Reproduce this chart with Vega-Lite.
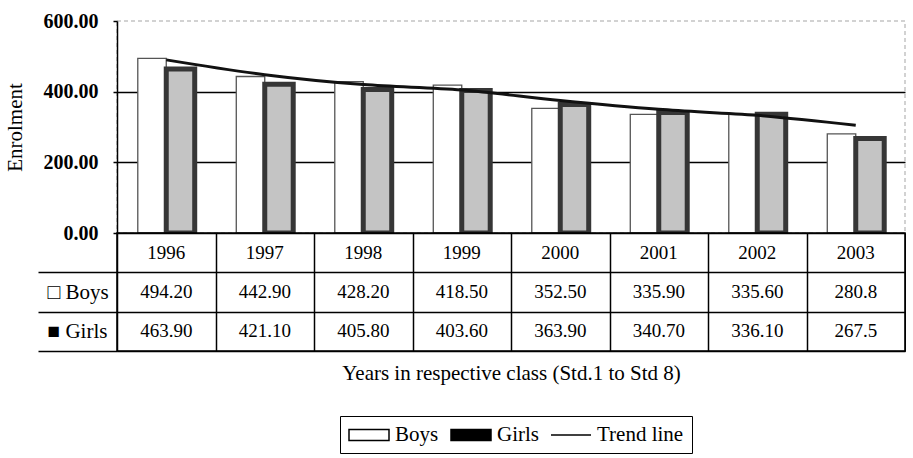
{
  "$schema": "https://vega.github.io/schema/vega-lite/v6.json",
  "padding": {"left": 3, "top": 10, "right": 0, "bottom": 0},
  "background": "white",
  "config": {"font": "Liberation Serif"},
  "datasets": {
    "enrol": [
      {"year": "1996", "sex": "Boys", "value": 494.2, "label": "494.20"},
      {"year": "1997", "sex": "Boys", "value": 442.9, "label": "442.90"},
      {"year": "1998", "sex": "Boys", "value": 428.2, "label": "428.20"},
      {"year": "1999", "sex": "Boys", "value": 418.5, "label": "418.50"},
      {"year": "2000", "sex": "Boys", "value": 352.5, "label": "352.50"},
      {"year": "2001", "sex": "Boys", "value": 335.9, "label": "335.90"},
      {"year": "2002", "sex": "Boys", "value": 335.6, "label": "335.60"},
      {"year": "2003", "sex": "Boys", "value": 280.8, "label": "280.8"},
      {"year": "1996", "sex": "Girls", "value": 463.9, "label": "463.90"},
      {"year": "1997", "sex": "Girls", "value": 421.1, "label": "421.10"},
      {"year": "1998", "sex": "Girls", "value": 405.8, "label": "405.80"},
      {"year": "1999", "sex": "Girls", "value": 403.6, "label": "403.60"},
      {"year": "2000", "sex": "Girls", "value": 363.9, "label": "363.90"},
      {"year": "2001", "sex": "Girls", "value": 340.7, "label": "340.70"},
      {"year": "2002", "sex": "Girls", "value": 336.1, "label": "336.10"},
      {"year": "2003", "sex": "Girls", "value": 267.5, "label": "267.5"}
    ],
    "trend": [
      {"year": "1996", "trend": 490},
      {"year": "1997", "trend": 448},
      {"year": "1998", "trend": 420},
      {"year": "1999", "trend": 405},
      {"year": "2000", "trend": 375},
      {"year": "2001", "trend": 350},
      {"year": "2002", "trend": 333},
      {"year": "2003", "trend": 305}
    ]
  },
  "spacing": 0,
  "bounds": "flush",
  "resolve": {"scale": {"x": "independent", "y": "independent"}},
  "vconcat": [
    {
      "width": 788,
      "height": 212,
      "view": {"stroke": "#c4c4c4", "strokeDash": [4, 3], "strokeWidth": 1.5},
      "layer": [
        {
          "data": {"name": "enrol"},
          "mark": {"type": "bar", "clip": true},
          "encoding": {
            "x": {"field": "year", "type": "nominal", "scale": {"paddingInner": 0, "paddingOuter": 0}, "axis": null},
            "xOffset": {"field": "sex", "type": "nominal", "scale": {"domain": ["Boys", "Girls"], "paddingInner": 0, "paddingOuter": 0.73}},
            "y": {
              "field": "value", "type": "quantitative",
              "scale": {"domain": [0, 600], "nice": false},
              "axis": {
                "values": [0, 200, 400, 600], "format": ".2f",
                "title": "Enrolment", "titleFontSize": 21, "titleFontWeight": "normal", "titleColor": "black", "titlePadding": 18,
                "labelFontSize": 20, "labelFontWeight": "bold", "labelColor": "black", "labelPadding": 15, "labelFlush": false,
                "tickSize": 4, "tickColor": "black", "tickWidth": 1.5,
                "domainColor": "black", "domainWidth": 1.5,
                "grid": true,
                "gridColor": {"condition": {"test": "datum.value === 200 || datum.value === 400", "value": "black"}, "value": "transparent"},
                "gridWidth": 1.5
              }
            },
            "fill": {"condition": {"test": "datum.sex === 'Girls'", "value": "#c4c4c4"}, "value": "#ffffff"},
            "stroke": {"condition": {"test": "datum.sex === 'Girls'", "value": "#363636"}, "value": "#555555"},
            "strokeWidth": {"condition": {"test": "datum.sex === 'Girls'", "value": 5}, "value": 1.3}
          }
        },
        {
          "data": {"name": "trend"},
          "mark": {"type": "line", "strokeWidth": 3, "interpolate": "monotone", "color": "#111111"},
          "encoding": {
            "x": {"field": "year", "type": "nominal"},
            "y": {"field": "trend", "type": "quantitative"}
          }
        },
        {
          "data": {"name": "enrol"},
          "mark": {"type": "point", "opacity": 0, "strokeWidth": 1.5},
          "encoding": {
            "x": {"field": "year", "type": "nominal"},
            "y": {"field": "value", "type": "quantitative"},
            "fill": {
              "field": "sex", "type": "nominal",
              "scale": {"domain": ["Boys", "Girls", "Trend line"], "range": ["#ffffff", "#000000", "transparent"]},
              "legend": {
                "orient": "none", "legendX": 223, "legendY": 395,
                "direction": "horizontal", "columns": 3, "title": null,
                "strokeColor": "black", "fillColor": "white", "padding": 8,
                "labelFontSize": 21, "labelColor": "black", "labelFont": "Liberation Serif", "labelOffset": 25,
                "columnPadding": 9, "symbolSize": 400, "symbolOpacity": 1, "symbolStrokeWidth": 1.5
              }
            },
            "stroke": {
              "field": "sex", "type": "nominal",
              "scale": {"domain": ["Boys", "Girls", "Trend line"], "range": ["#000000", "#000000", "#000000"]},
              "legend": {
                "orient": "none", "legendX": 223, "legendY": 395,
                "direction": "horizontal", "columns": 3, "title": null,
                "strokeColor": "black", "fillColor": "white", "padding": 8,
                "labelFontSize": 21, "labelColor": "black", "labelFont": "Liberation Serif", "labelOffset": 25,
                "columnPadding": 9, "symbolSize": 400, "symbolOpacity": 1, "symbolStrokeWidth": 1.5
              }
            },
            "shape": {
              "field": "sex", "type": "nominal",
              "scale": {
                "domain": ["Boys", "Girls", "Trend line"],
                "range": ["M-1,-0.55H3V0.55H-1Z", "M-1,-0.55H3V0.55H-1Z", "M-1,0H3"]
              },
              "legend": {
                "orient": "none", "legendX": 223, "legendY": 395,
                "direction": "horizontal", "columns": 3, "title": null,
                "strokeColor": "black", "fillColor": "white", "padding": 8,
                "labelFontSize": 21, "labelColor": "black", "labelFont": "Liberation Serif", "labelOffset": 25,
                "columnPadding": 9, "symbolSize": 400, "symbolOpacity": 1, "symbolStrokeWidth": 1.5
              }
            }
          }
        }
      ]
    },
    {
      "width": 788,
      "height": 118,
      "view": {"stroke": "black", "strokeWidth": 1.5},
      "data": {"name": "enrol"},
      "encoding": {
        "x": {
          "field": "year", "type": "nominal",
          "scale": {"paddingInner": 0, "paddingOuter": 0},
          "axis": {
            "title": "Years in respective class (Std.1 to Std 8)",
            "titleFontSize": 21, "titleFontWeight": "normal", "titleColor": "black", "titlePadding": 11,
            "labels": false, "ticks": false, "domain": false,
            "grid": true, "tickBand": "extent", "gridColor": "black", "gridWidth": 1.5
          }
        }
      },
      "layer": [
        {
          "mark": {"type": "text", "fontSize": 19, "font": "Liberation Serif", "color": "black"},
          "encoding": {
            "y": {
              "field": "sex", "type": "nominal",
              "scale": {"domain": ["yr", "Boys", "Girls"], "paddingInner": 0, "paddingOuter": 0},
              "axis": {
                "title": null, "domain": false,
                "ticks": true, "tickSize": 79, "tickWidth": 1.5,
                "tickColor": {"condition": {"test": "datum.extra", "value": "transparent"}, "value": "black"},
                "tickBand": "extent",
                "grid": true, "gridColor": "black", "gridWidth": 1.5,
                "labelExpr": "datum.value === 'Boys' ? '□ Boys' : datum.value === 'Girls' ? '■ Girls' : ''",
                "labelAlign": "left", "labelPadding": -9, "labelBaseline": "middle",
                "labelFontSize": 21, "labelColor": "black"
              }
            },
            "text": {"field": "label"}
          }
        },
        {
          "transform": [{"filter": "datum.sex === 'Boys'"}],
          "mark": {"type": "text", "fontSize": 19, "font": "Liberation Serif", "color": "black"},
          "encoding": {
            "y": {"datum": "yr", "type": "nominal"},
            "text": {"field": "year"}
          }
        }
      ]
    }
  ]
}
